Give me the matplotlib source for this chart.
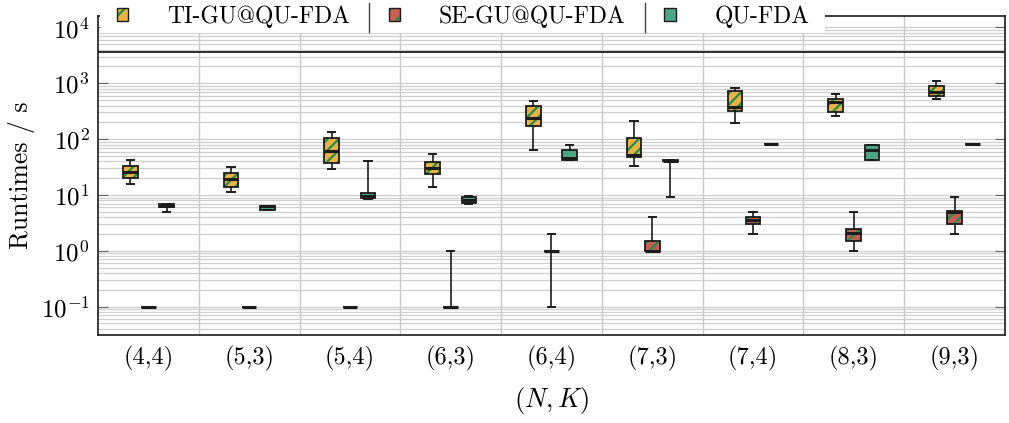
import matplotlib.pyplot as plt
import numpy as np
from matplotlib.legend_handler import HandlerTuple
from matplotlib.lines import Line2D
from matplotlib.patches import Patch, PathPatch, Rectangle

plt.rcParams.update({
    "font.family": ["cmr10", "DejaVu Serif"],
    "mathtext.fontset": "cm",
    "axes.unicode_minus": False,
    "axes.formatter.use_mathtext": True,
    "hatch.linewidth": 1.6,
})

CATEGORIES = ["(4,4)", "(5,3)", "(5,4)", "(6,3)", "(6,4)", "(7,3)", "(7,4)", "(8,3)", "(9,3)"]
SERIES = ["TI-GU@QU-FDA", "SE-GU@QU-FDA", "QU-FDA"]

# box summaries: whisker low, q1, median, q3, whisker high
TI_LO = [16, 11.1, 29, 14, 64, 33, 192, 256, 530]
TI_Q1 = [20, 14, 37, 23.4, 174, 47, 315, 310, 600]
TI_MED = [25.7, 19.5, 62, 31, 236, 53, 372, 458, 689]
TI_Q3 = [33, 24.4, 106, 39, 398, 106, 738, 523, 884]
TI_HI = [42, 32, 133, 54.7, 482, 211, 834, 633, 1114]

SE_LO = [0.1, 0.1, 0.1, 0.1, 0.1, 1.0, 2.0, 1.0, 2.0]
SE_Q1 = [0.1, 0.1, 0.1, 0.1, 1.0, 1.0, 3.0, 1.5, 3.0]
SE_MED = [0.1, 0.1, 0.1, 0.1, 1.0, 1.0, 3.55, 2.05, 5.0]
SE_Q3 = [0.1, 0.1, 0.1, 0.1, 1.0, 1.5, 4.07, 2.45, 5.1]
SE_HI = [0.1, 0.1, 0.1, 1.0, 2.0, 4.07, 5.0, 5.0, 9.2]

QU_LO = [5.0, 5.3, 8.3, 6.9, 43, 9.3, 83, 43, 81]
QU_Q1 = [6.0, 5.3, 8.7, 7.1, 43, 40, 83, 43, 81]
QU_MED = [6.3, 6.3, 9.6, 8.1, 45, 41, 83, 63, 81]
QU_Q3 = [6.8, 6.4, 10.7, 9.3, 63, 42, 83, 79, 81]
QU_HI = [6.8, 6.4, 41, 9.6, 79, 42, 83, 79, 81]

TIMEOUT = 3600

FILL = ["#EBB145", "#C95E56", "#4CA584"]
HATCH = ["///", "///", None]
HATCH_COLOR = "#1F8F4A"
EDGE = "#1c1c1c"
OFFSETS = [-0.18, 0.0, 0.18]
BOX_W = 0.145


def make_stats(lo, q1, med, q3, hi):
    return [
        dict(whislo=a, q1=b, med=c, q3=d, whishi=e, fliers=[])
        for a, b, c, d, e in zip(lo, q1, med, q3, hi)
    ]


def main():
    fig = plt.figure(figsize=(10.09, 4.23), dpi=100)
    ax = fig.add_axes([0.0971, 0.208, 0.8989, 0.754])

    all_stats = [
        make_stats(TI_LO, TI_Q1, TI_MED, TI_Q3, TI_HI),
        make_stats(SE_LO, SE_Q1, SE_MED, SE_Q3, SE_HI),
        make_stats(QU_LO, QU_Q1, QU_MED, QU_Q3, QU_HI),
    ]
    base = np.arange(1, len(CATEGORIES) + 1)

    for stats, fill, hatch, off in zip(all_stats, FILL, HATCH, OFFSETS):
        res = ax.bxp(
            stats,
            positions=base + off,
            widths=BOX_W,
            patch_artist=True,
            showfliers=False,
            manage_ticks=False,
            boxprops=dict(facecolor=fill, edgecolor=HATCH_COLOR if hatch else EDGE,
                          linewidth=0 if hatch else 1.3, hatch=hatch),
            medianprops=dict(color=EDGE, linewidth=2.2, solid_capstyle="butt"),
            whiskerprops=dict(color=EDGE, linewidth=1.2),
            capprops=dict(color=EDGE, linewidth=1.4),
        )
        for box in res["boxes"]:
            box.set_zorder(2)
            if hatch:
                ax.add_patch(PathPatch(box.get_path(), fill=False, edgecolor=EDGE,
                                       linewidth=1.3, zorder=2.05))
        for med in res["medians"]:
            med.set_zorder(2.1)

    ax.axhline(TIMEOUT, color=EDGE, linewidth=1.3, zorder=2)

    ax.set_yscale("log")
    ax.set_ylim(0.031, 16000)
    ax.set_xlim(0.5, len(CATEGORIES) + 0.5)
    ax.set_xticks(base)
    ax.set_xticklabels(CATEGORIES, fontsize=17.5)
    ax.set_xticks(base[:-1] + 0.5, minor=True)
    ax.tick_params(axis="x", which="both", length=0, pad=8)
    ax.tick_params(axis="y", which="major", direction="in", left=True, right=True,
                   length=7, width=0.8, color="#666666", labelsize=18, pad=6)
    ax.tick_params(axis="y", which="minor", length=0)

    ax.set_axisbelow(True)
    ax.yaxis.grid(True, which="both", color="#cfcfcf", linewidth=0.9)
    ax.xaxis.grid(True, which="minor", color="#c8c8c8", linewidth=1.0)
    for sp in ax.spines.values():
        sp.set_linewidth(1.2)
        sp.set_color(EDGE)

    ax.set_ylabel("Runtimes / s", fontsize=18.5, labelpad=4)
    ax.set_xlabel("$(N,K)$", fontsize=19, labelpad=10)

    # white band behind the legend, covering the top spine
    fig.add_artist(Rectangle((100 / 1009, 1 - 33 / 423), 725 / 1009, 34 / 423,
                             transform=fig.transFigure, facecolor="white",
                             edgecolor="none", zorder=1))

    handles = []
    for fill, hatch in zip(FILL, HATCH):
        if hatch:
            h = (Patch(facecolor=fill, edgecolor=HATCH_COLOR, linewidth=0, hatch="//"),
                 Patch(fill=False, edgecolor=EDGE, linewidth=1.0))
        else:
            h = Patch(facecolor=fill, edgecolor=EDGE, linewidth=1.0)
        handles.append(h)

    colspace = 1.65
    leg = fig.legend(
        handles, SERIES,
        handler_map={tuple: HandlerTuple(ndivide=1, pad=0)},
        loc="center left",
        bbox_to_anchor=(116.7 / 1009, 1 - 17 / 423),
        ncol=3, frameon=False, fontsize=17,
        borderpad=0, borderaxespad=0,
        handlelength=0.47, handleheight=0.47,
        handletextpad=1.65, columnspacing=colspace,
    )

    fig.canvas.draw()
    renderer = fig.canvas.get_renderer()
    texts = leg.get_texts()
    col_px = colspace * 17 * 100 / 72
    for t in texts[:-1]:
        bb = t.get_window_extent(renderer)
        x = (bb.x1 + col_px / 2) / fig.bbox.width
        fig.add_artist(Line2D([x, x], [1 - 32 / 423, 1 - 3 / 423],
                              transform=fig.transFigure, color="#444444",
                              linewidth=1.0, zorder=6))

    fig.savefig("out.png", dpi=100)
    plt.close(fig)


if __name__ == "__main__":
    main()
